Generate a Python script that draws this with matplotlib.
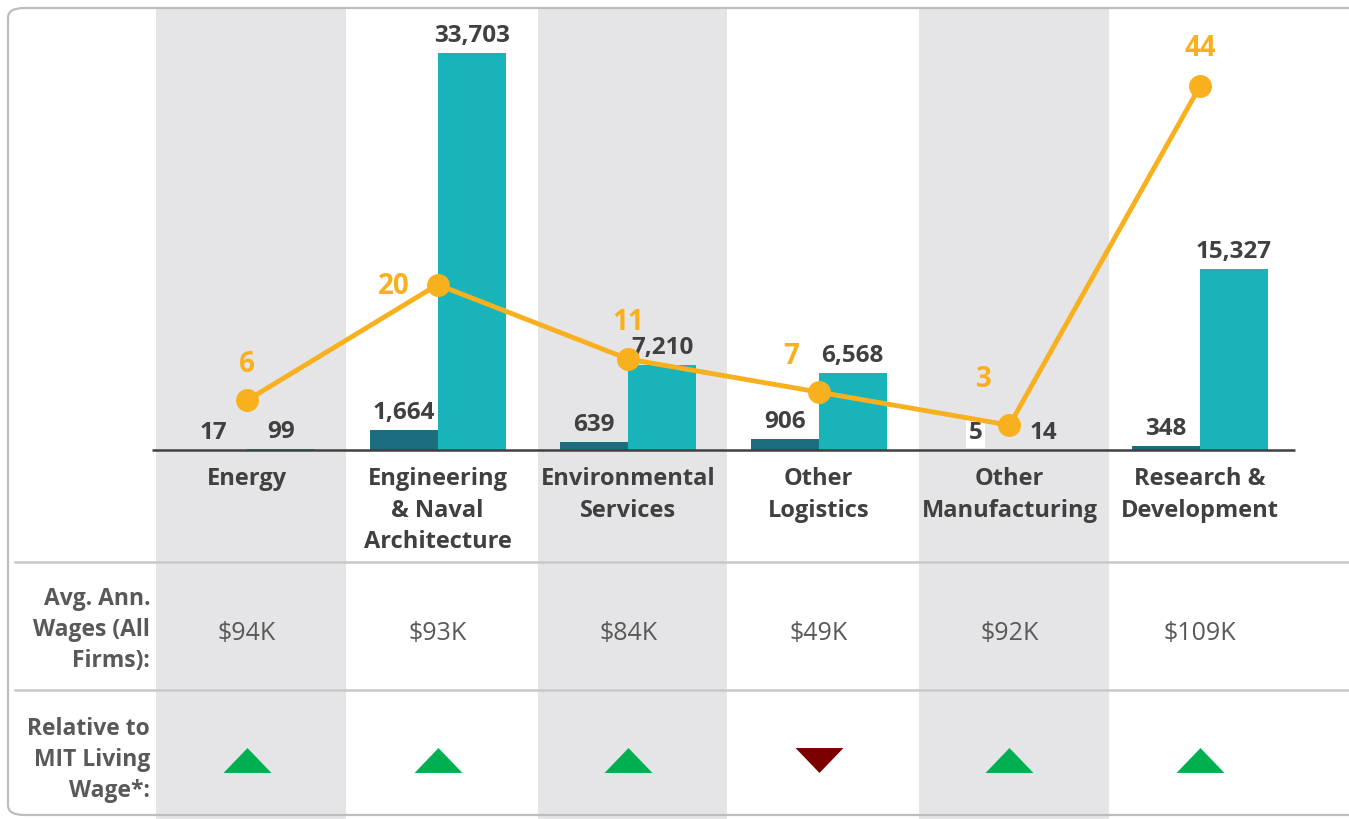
import matplotlib
matplotlib.use("Agg")
import matplotlib.pyplot as plt
from matplotlib.patches import FancyBboxPatch
from matplotlib.lines import Line2D
import numpy as np

plt.rcParams['font.family'] = ['Open Sans', 'DejaVu Sans']

# ---- data ----
categories = ["Energy", "Engineering\n& Naval\nArchitecture", "Environmental\nServices",
              "Other\nLogistics", "Other\nManufacturing", "Research &\nDevelopment"]
dark_vals = [17, 1664, 639, 906, 5, 348]
light_vals = [99, 33703, 7210, 6568, 14, 15327]
line_vals = [6, 20, 11, 7, 3, 44]
wages = ["$94K", "$93K", "$84K", "$49K", "$92K", "$109K"]
wage_dir = ["up", "up", "up", "down", "up", "up"]
row_labels = ["Avg. Ann.\nWages (All\nFirms):", "Relative to\nMIT Living\nWage*:"]

# ---- styles ----
DARK = "#1B6E80"
LIGHT = "#19B4BA"
ORANGE = "#F9B01E"
BAND = "#E5E5E7"
TXT = "#404040"
GRAY = "#595959"
GREEN = "#00B050"
RED = "#7B0000"

W, H = 1349, 819
fig = plt.figure(figsize=(W / 100, H / 100), dpi=100)

def fy(py):  # pixel y (from top) -> figure fraction
    return (H - py) / H

def fx(px):
    return px / W

ax = fig.add_axes([0, 0, 1, 1])
ax.set_facecolor("none")
colw = 190.6
x0px = 247.0
ax.set_xlim(-x0px / colw, (W - x0px) / colw)
bar_scale = 397.0 / 33703.0  # px per unit
base_py = 450.0
ax.set_ylim(-(H - base_py) / bar_scale, base_py / bar_scale)
ax.axis("off")

x = np.arange(len(categories))

# gray bands
for i in range(0, len(categories), 2):
    ax.axvspan(i - 0.475, i + 0.52, ymin=0, ymax=fy(9), color=BAND, zorder=0, lw=0)

# border box
box = FancyBboxPatch((fx(8), fy(815)), fx(1380) - fx(8), fy(8) - fy(815),
                     boxstyle="round,pad=0,rounding_size=0.012", transform=fig.transFigure,
                     fill=False, edgecolor="#BDBDBD", lw=1.6, zorder=1, clip_on=False)
fig.add_artist(box)

# bars
bw = 68.0 / colw
ax.bar(x - bw / 2, dark_vals, width=bw, color=DARK, zorder=2)
ax.bar(x + bw / 2, light_vals, width=bw, color=LIGHT, zorder=2)

# baseline axis
ax.plot([-0.5, 5.5], [0, 0], color="#404040", lw=1.8, zorder=3, solid_capstyle="butt")

# bar value labels
pt = 72.0 / 100.0
NUMFS = 17.5
for i in x:
    ax.annotate(f"{dark_vals[i]:,}", (x[i] - bw / 2, dark_vals[i]), xytext=(0, 17 * pt),
                textcoords="offset points", ha="center", va="center", fontsize=NUMFS,
                fontweight="bold", color=TXT, zorder=6,
                bbox=dict(boxstyle="square,pad=0.12", fc="white", ec="none") if i == 4 else None)
    ax.annotate(f"{light_vals[i]:,}", (x[i] + bw / 2, light_vals[i]), xytext=(0, 17 * pt),
                textcoords="offset points", ha="center", va="center", fontsize=NUMFS,
                fontweight="bold", color=TXT, zorder=6)

# line on secondary axis
ax2 = fig.add_axes([0, 0, 1, 1], sharex=ax)
ax2.set_facecolor("none")
ax2.axis("off")
line_scale = 8.268
ax2.set_ylim(-(H - base_py) / line_scale, base_py / line_scale)
ax2.plot(x, line_vals, color=ORANGE, lw=3.5, marker="o", markersize=15.5, zorder=5)
line_off = [(0, 36), (-44, -2), (0, 37), (-28, 36), (-25, 46), (0, 38)]
for i in x:
    ax2.annotate(str(line_vals[i]), (x[i], line_vals[i]),
                 xytext=(line_off[i][0] * pt, line_off[i][1] * pt), textcoords="offset points",
                 ha="center", va="center", fontsize=20, fontweight="bold", color=ORANGE, zorder=6)

# category labels
for i in x:
    ax.text(x[i], fy(467), categories[i], transform=ax.get_xaxis_transform(),
            ha="center", va="top", fontsize=17, fontweight="bold", color=TXT,
            linespacing=1.43)

# separators
for py in (562, 690):
    fig.add_artist(Line2D([fx(15), 1.0], [fy(py), fy(py)], color="#C8C8C8", lw=1.8,
                          transform=fig.transFigure))

# row labels
ax.text(fx(150), fy(630), row_labels[0], transform=fig.transFigure, ha="right",
        va="center", fontsize=16.5, fontweight="bold", color=GRAY, linespacing=1.38,
        multialignment="right")
ax.text(fx(150), fy(760), row_labels[1], transform=fig.transFigure, ha="right",
        va="center", fontsize=16.5, fontweight="bold", color=GRAY, linespacing=1.38,
        multialignment="right")

# wages
for i in x:
    ax.text(x[i], fy(634), wages[i], transform=ax.get_xaxis_transform(), ha="center",
            va="center", fontsize=18, color=GRAY)

# triangles
up = [(-1, -0.52), (1, -0.52), (0, 0.52), (-1, -0.52)]
down = [(-1, 0.52), (1, 0.52), (0, -0.52), (-1, 0.52)]
for i in x:
    m = up if wage_dir[i] == "up" else down
    c = GREEN if wage_dir[i] == "up" else RED
    ax.plot([x[i]], [fy(760)], transform=ax.get_xaxis_transform(), marker=m,
            markersize=34.5, color=c, markeredgewidth=0, linestyle="none")

fig.savefig("out.png", dpi=100)
